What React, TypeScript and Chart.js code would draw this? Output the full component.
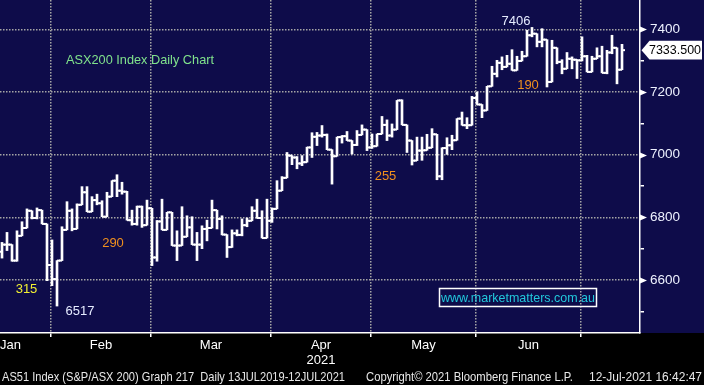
import React, { useEffect, useRef } from 'react';
import { Chart, registerables } from 'chart.js';

Chart.register(...registerables);

// ---------- data ----------
const MONTH_LABELS = ['Jan', 'Feb', 'Mar', 'Apr', 'May', 'Jun', 'Jul'];
// index of the first trading day of each month (bar 0 = mid January 2021)
const MONTH_STARTS = [-9, 10, 30, 54, 74, 95, 116];
const YEAR_LABEL = '2021';
const YEAR_MONTH = 'Apr';

const OPEN = [
  6690, 6713, 6713, 6662, 6741, 6766, 6821, 6798, 6823, 6779,
  6648, 6603, 6662, 6760, 6821, 6763, 6840, 6880, 6818, 6855,
  6845, 6802, 6866, 6917, 6885, 6882, 6791, 6779, 6834, 6775,
  6829, 6672, 6787, 6760, 6816, 6710, 6710, 6738, 6768, 6713,
  6713, 6763, 6766, 6823, 6795, 6745, 6705, 6749, 6744, 6775,
  6789, 6821, 6798, 6734, 6789, 6827, 6885, 6926, 6997, 6991,
  6972, 6976, 7023, 7057, 7061, 7063, 7016, 6995, 7056, 7059,
  7045, 7031, 7063, 7080, 7023, 7027, 7066, 7095, 7061, 7080,
  7173, 7095, 7045, 6981, 7013, 7014, 7022, 7065, 6931, 7021,
  7030, 7046, 7115, 7094, 7094, 7181, 7160, 7141, 7218, 7258,
  7293, 7280, 7290, 7269, 7299, 7314, 7381, 7386, 7360, 7367,
  7232, 7341, 7296, 7274, 7306, 7303, 7301, 7314, 7264, 7306,
  7314, 7261, 7326, 7341, 7271,
];
const HIGH = [
  6720, 6752, 6713, 6757, 6786, 6827, 6821, 6830, 6823, 6779,
  6728, 6662, 6770, 6850, 6827, 6843, 6898, 6898, 6866, 6874,
  6853, 6880, 6917, 6936, 6912, 6883, 6823, 6836, 6836, 6855,
  6829, 6790, 6858, 6816, 6816, 6757, 6834, 6805, 6802, 6752,
  6773, 6791, 6855, 6823, 6805, 6745, 6760, 6760, 6795, 6798,
  6834, 6858, 6821, 6858, 6830, 6917, 6930, 7007, 6997, 6994,
  6997, 7024, 7070, 7071, 7093, 7066, 7016, 7056, 7061, 7074,
  7045, 7077, 7095, 7080, 7066, 7066, 7122, 7111, 7098, 7173,
  7175, 7095, 7045, 7056, 7056, 7065, 7083, 7065, 7022, 7054,
  7062, 7115, 7136, 7118, 7186, 7200, 7160, 7218, 7282, 7301,
  7312, 7317, 7335, 7314, 7330, 7397, 7406, 7386, 7402, 7367,
  7365, 7341, 7303, 7326, 7312, 7303, 7376, 7317, 7314, 7341,
  7346, 7333, 7381, 7341, 7352,
];
const LOW = [
  6670, 6694, 6660, 6660, 6741, 6766, 6795, 6795, 6779, 6598,
  6582, 6517, 6662, 6760, 6757, 6763, 6840, 6818, 6818, 6840,
  6802, 6802, 6866, 6866, 6874, 6791, 6775, 6775, 6768, 6775,
  6646, 6660, 6760, 6760, 6710, 6662, 6710, 6738, 6713, 6662,
  6700, 6725, 6766, 6763, 6744, 6672, 6704, 6741, 6741, 6770,
  6789, 6797, 6734, 6734, 6784, 6827, 6885, 6926, 6968, 6955,
  6965, 6976, 6991, 7029, 7056, 7016, 6906, 6995, 7037, 7045,
  7002, 7029, 7063, 7013, 7020, 7027, 7066, 7045, 7056, 7080,
  7095, 7007, 6967, 6981, 6982, 7014, 7022, 6920, 6920, 7001,
  7016, 7046, 7094, 7083, 7094, 7160, 7118, 7141, 7218, 7248,
  7271, 7280, 7269, 7269, 7299, 7314, 7376, 7344, 7344, 7216,
  7232, 7290, 7258, 7274, 7274, 7243, 7299, 7264, 7264, 7306,
  7261, 7258, 7322, 7226, 7271,
];
const CLOSE = [
  6713, 6713, 6662, 6741, 6766, 6821, 6798, 6823, 6779, 6648,
  6603, 6662, 6760, 6821, 6763, 6840, 6880, 6818, 6855, 6845,
  6802, 6866, 6917, 6885, 6882, 6791, 6779, 6834, 6775, 6829,
  6672, 6787, 6760, 6816, 6710, 6710, 6738, 6768, 6713, 6713,
  6763, 6766, 6823, 6795, 6745, 6705, 6749, 6744, 6775, 6789,
  6821, 6798, 6734, 6789, 6827, 6885, 6926, 6997, 6991, 6972,
  6976, 7023, 7057, 7061, 7063, 7016, 6995, 7056, 7059, 7045,
  7031, 7063, 7080, 7023, 7027, 7066, 7095, 7061, 7080, 7173,
  7095, 7045, 6981, 7013, 7014, 7022, 7065, 6931, 7021, 7030,
  7046, 7115, 7094, 7094, 7181, 7160, 7141, 7218, 7258, 7293,
  7280, 7290, 7269, 7299, 7314, 7381, 7386, 7360, 7367, 7232,
  7341, 7296, 7274, 7306, 7303, 7301, 7314, 7264, 7306, 7314,
  7261, 7326, 7341, 7271, 7333.5,
];

const Y_MAJOR = [6600, 6800, 7000, 7200, 7400];
const Y_MINOR = [6500, 6700, 6900, 7100, 7300];

const ANNOTATIONS = [
  { text: '7406', x: 516, y: 25, color: '#e6ecff' },
  { text: '190', x: 528, y: 88.5, color: '#f0901e' },
  { text: '255', x: 385.5, y: 180, color: '#f0901e' },
  { text: '290', x: 113, y: 247, color: '#f0901e' },
  { text: '315', x: 26.5, y: 293, color: '#f2f032' },
  { text: '6517', x: 80, y: 315, color: '#e6ecff' },
];

const TITLE = 'ASX200 Index Daily Chart';
const WEBSITE = 'www.marketmatters.com.au';
const FOOTER_LEFT = 'AS51 Index (S&P/ASX 200) Graph 217  Daily 13JUL2019-12JUL2021';
const FOOTER_MID = 'Copyright\u00A9 2021 Bloomberg Finance L.P.';
const FOOTER_RIGHT = '12-Jul-2021 16:42:47';

// ---------- style ----------
const FONT = "'Liberation Sans', Arial, sans-serif";
const NAVY = '#0e0c4a';
const GRID = 'rgba(165,165,165,1)';
const X_MIN = -0.4;
const X_MAX = 127.6;
const Y_MIN = 6431;
const Y_MAX = 7493.5;

const gridTicks = MONTH_STARTS.slice(1).map((s) => s - 0.2);
const labelTicks = MONTH_LABELS.slice(0, -1).map((m, k) => {
  const a = MONTH_STARTS[k] - 0.2;
  const b = MONTH_STARTS[k + 1] - 0.2;
  const mid = Math.max((a + b) / 2, 1.7);
  return { value: mid, label: m === YEAR_MONTH ? [m, YEAR_LABEL] : m };
});

const zeroPad = (s: any) => {
  s.paddingTop = 0;
  s.paddingBottom = 0;
  s.paddingLeft = 0;
  s.paddingRight = 0;
};

const decorPlugin = {
  id: 'decor',
  beforeDraw(chart: any) {
    const { ctx, chartArea, width, height } = chart;
    ctx.save();
    ctx.fillStyle = '#000';
    ctx.fillRect(0, 0, width, height);
    ctx.fillStyle = NAVY;
    ctx.fillRect(0, 0, width, chartArea.bottom);
    ctx.restore();
  },
  afterDraw(chart: any) {
    const { ctx, chartArea, width } = chart;
    const ys = chart.scales.y;
    ctx.save();
    // axis markers
    ctx.fillStyle = '#fff';
    Y_MAJOR.forEach((v) => {
      const y = Math.round(ys.getPixelForValue(v)) + 0.5;
      ctx.beginPath();
      ctx.moveTo(chartArea.right, y - 3);
      ctx.lineTo(chartArea.right + 7, y);
      ctx.lineTo(chartArea.right, y + 3);
      ctx.closePath();
      ctx.fill();
    });
    // last price box
    const last = CLOSE[CLOSE.length - 1];
    const ly = ys.getPixelForValue(last);
    const lx = chartArea.right + 1.5;
    ctx.fillStyle = '#fff';
    ctx.beginPath();
    ctx.moveTo(lx, ly);
    ctx.lineTo(lx + 8, ly - 9.3);
    ctx.lineTo(width - 2, ly - 9.3);
    ctx.lineTo(width - 2, ly + 9.3);
    ctx.lineTo(lx + 8, ly + 9.3);
    ctx.closePath();
    ctx.fill();
    ctx.fillStyle = '#000';
    ctx.font = `13.5px ${FONT}`;
    ctx.textAlign = 'left';
    ctx.textBaseline = 'middle';
    ctx.fillText(last.toFixed(3), 649, ly + 0.5, 52);

    // annotations
    ctx.font = `13px ${FONT}`;
    ctx.textBaseline = 'alphabetic';
    ctx.textAlign = 'center';
    ANNOTATIONS.forEach((a) => {
      ctx.fillStyle = a.color;
      ctx.fillText(a.text, a.x, a.y);
    });
    ctx.textAlign = 'left';
    ctx.fillStyle = '#80e38c';
    ctx.fillText(TITLE, 66, 63.5, 148);

    // website box
    ctx.strokeStyle = '#fff';
    ctx.lineWidth = 1.5;
    ctx.strokeRect(439.5, 288.5, 157, 18);
    ctx.fillStyle = '#22c8dc';
    ctx.textAlign = 'center';
    ctx.fillText(WEBSITE, 518, 302, 154);

    // footer
    ctx.fillStyle = '#e8e8e8';
    ctx.textAlign = 'left';
    ctx.fillText(FOOTER_LEFT, 2, 381, 343);
    ctx.fillText(FOOTER_MID, 366, 381, 207);
    ctx.textAlign = 'right';
    ctx.fillText(FOOTER_RIGHT, 702, 381, 113);
    ctx.restore();
  },
};

export default function App() {
  const ref = useRef<HTMLCanvasElement>(null);
  useEffect(() => {
    if (!ref.current) return;
    Chart.defaults.font.family = FONT;
    const chart = new Chart(ref.current, {
      type: 'bar',
      data: {
        datasets: [
          {
            type: 'bar',
            data: HIGH.map((h, i) => ({ x: i, y: [LOW[i], h] })) as any,
            backgroundColor: '#ffffff',
            borderWidth: 0,
            barThickness: 2,
            grouped: false,
            xAxisID: 'x',
            yAxisID: 'y',
          } as any,
          {
            type: 'scatter',
            data: OPEN.map((o, i) => ({ x: i - 0.3, y: o })),
            pointStyle: 'line',
            pointRadius: 1.5,
            pointHoverRadius: 1.5,
            pointBorderWidth: 2,
            pointBorderColor: '#ffffff',
            pointBackgroundColor: '#ffffff',
            showLine: false,
            xAxisID: 'x',
            yAxisID: 'y',
          } as any,
          {
            type: 'scatter',
            data: CLOSE.map((c, i) => ({ x: i + 0.3, y: c })),
            pointStyle: 'line',
            pointRadius: 1.5,
            pointHoverRadius: 1.5,
            pointBorderWidth: 2,
            pointBorderColor: '#ffffff',
            pointBackgroundColor: '#ffffff',
            showLine: false,
            xAxisID: 'x',
            yAxisID: 'y',
          } as any,
        ],
      },
      options: {
        responsive: false,
        animation: false,
        events: [],
        layout: { padding: 0, autoPadding: false },
        plugins: { legend: { display: false }, tooltip: { enabled: false } },
        scales: {
          x: {
            type: 'linear',
            position: 'bottom',
            min: X_MIN,
            max: X_MAX,
            offset: false,
            weight: 0,
            grid: {
              offset: false,
              color: GRID,
              lineWidth: 1.5,
              drawTicks: true,
              tickLength: 4,
              tickColor: '#ffffff',
              tickWidth: 1.5,
            },
            border: { display: true, color: '#ffffff', width: 1.5, dash: [1.5, 1.5] },
            ticks: { display: false },
            afterBuildTicks: (s: any) => {
              s.ticks = gridTicks.map((v) => ({ value: v }));
            },
            afterFit: (s: any) => {
              s.height = 5;
              zeroPad(s);
            },
          },
          xl: {
            type: 'linear',
            position: 'bottom',
            min: X_MIN,
            max: X_MAX,
            offset: false,
            weight: 1,
            grid: { display: false, drawTicks: false, drawOnChartArea: false },
            border: { display: false },
            ticks: {
              autoSkip: false,
              maxRotation: 0,
              minRotation: 0,
              padding: 0,
              color: '#ffffff',
              font: { family: FONT, size: 13, lineHeight: 1.15 },
              callback: (_v: any, i: number) => (labelTicks[i] ? labelTicks[i].label : ''),
            },
            afterBuildTicks: (s: any) => {
              s.ticks = labelTicks.map((t) => ({ value: t.value }));
            },
            afterFit: (s: any) => {
              s.height = 47;
              zeroPad(s);
            },
          },
          y: {
            type: 'linear',
            position: 'right',
            min: Y_MIN,
            max: Y_MAX,
            beginAtZero: false,
            grid: {
              color: (c: any) =>
                c.tick && Y_MAJOR.includes(c.tick.value) ? GRID : 'rgba(0,0,0,0)',
              lineWidth: 1.5,
              drawTicks: true,
              tickLength: 4,
              tickColor: '#ffffff',
              tickWidth: 1.5,
            },
            border: { display: true, color: '#ffffff', width: 1.5, dash: [1.5, 1.5] },
            ticks: {
              autoSkip: false,
              padding: 6,
              color: '#eef2ff',
              font: { family: FONT, size: 13.5 },
              callback: (v: any) => (Y_MAJOR.includes(Number(v)) ? String(v) : ''),
            },
            afterBuildTicks: (s: any) => {
              s.ticks = [...Y_MINOR, ...Y_MAJOR].sort((a, b) => a - b).map((v) => ({ value: v }));
            },
            afterFit: (s: any) => {
              s.width = 64;
              zeroPad(s);
            },
          },
        },
      } as any,
      plugins: [decorPlugin],
    });
    return () => chart.destroy();
  }, []);

  return (
    <div style={{ position: 'absolute', left: 0, top: 0, width: 704, height: 385, background: '#000' }}>
      <canvas ref={ref} width={704} height={385} style={{ display: 'block' }} />
    </div>
  );
}
